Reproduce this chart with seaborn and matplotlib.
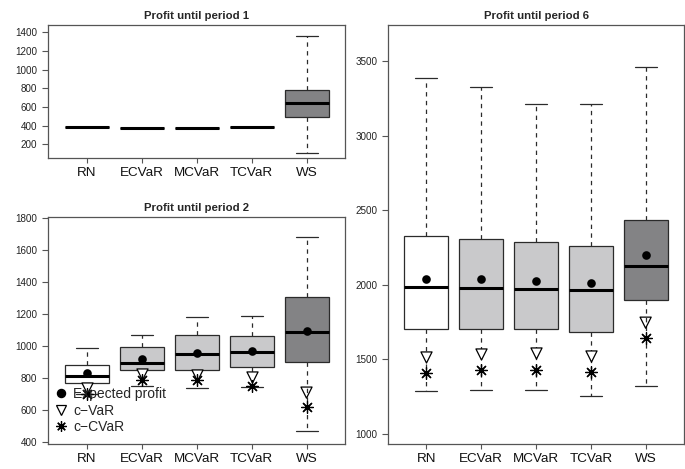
import numpy as np
import pandas as pd
import matplotlib
matplotlib.use("Agg")
import matplotlib.pyplot as plt
from matplotlib.lines import Line2D
import seaborn as sns

categories = ["RN", "ECVaR", "MCVaR", "TCVaR", "WS"]

# Period 1: five-number summaries (lower whisker, Q1, median, Q3, upper whisker)
p1_low = [382, 375, 375, 386, 103]
p1_q1 = [382, 375, 375, 386, 497]
p1_med = [382, 375, 375, 386, 643]
p1_q3 = [382, 375, 375, 386, 786]
p1_high = [382, 375, 375, 386, 1360]

# Period 2
p2_low = [700, 750, 742, 748, 469]
p2_q1 = [771, 850, 852, 871, 904]
p2_med = [815, 898, 952, 964, 1091]
p2_q3 = [883, 999, 1070, 1066, 1306]
p2_high = [991, 1070, 1182, 1192, 1680]
p2_mean = [836, 919, 960, 968, 1099]
p2_cvar = [738, 825, 822, 806, 711]
p2_ccvar = [705, 791, 792, 753, 624]

# Period 6
p6_low = [1290, 1292, 1295, 1257, 1319]
p6_q1 = [1701, 1701, 1701, 1685, 1895]
p6_med = [1987, 1976, 1971, 1964, 2127]
p6_q3 = [2326, 2304, 2290, 2263, 2433]
p6_high = [3388, 3326, 3210, 3210, 3460]
p6_mean = [2042, 2036, 2027, 2013, 2199]
p6_cvar = [1518, 1536, 1541, 1522, 1746]
p6_ccvar = [1406, 1429, 1429, 1413, 1641]

box_colors = {"RN": "#ffffff", "ECVaR": "#c9c9cb", "MCVaR": "#c9c9cb",
              "TCVaR": "#c9c9cb", "WS": "#838385"}

sns.set_style("ticks")
plt.rcParams["font.family"] = ["Liberation Sans", "DejaVu Sans"]

W, H = 685, 469
fig = plt.figure(figsize=(W / 100, H / 100), dpi=100)


def px_axes(left, top, right, bottom):
    return fig.add_axes([left / W, 1 - bottom / H, (right - left) / W, (bottom - top) / H])


ax1 = px_axes(48, 25, 345, 158)
ax2 = px_axes(48, 217, 345, 444)
ax3 = px_axes(388, 25, 684, 444)

edge = "#2b2b2b"
frame = "#555555"


def summary_frame(low, q1, med, q3, high):
    rows = []
    for i, c in enumerate(categories):
        for v in (low[i], q1[i], med[i], q3[i], high[i]):
            rows.append({"method": c, "profit": v})
    return pd.DataFrame(rows)


def draw_boxes(ax, low, q1, med, q3, high):
    df = summary_frame(low, q1, med, q3, high)
    sns.boxplot(data=df, x="method", y="profit", hue="method", order=categories,
                hue_order=categories, palette=box_colors, legend=False,
                whis=(0, 100), width=0.8, showfliers=False, linewidth=0.9,
                linecolor=edge, ax=ax,
                medianprops={"color": "black", "linewidth": 2.2},
                whiskerprops={"linestyle": (0, (3.5, 3.5)), "color": edge, "linewidth": 0.9},
                capprops={"color": edge, "linewidth": 0.9})


def draw_points(ax, mean, cvar, ccvar):
    sns.stripplot(x=categories, y=mean, order=categories, jitter=False, color="black",
                  marker="o", size=6.2, linewidth=0, ax=ax, zorder=5)
    sns.stripplot(x=categories, y=cvar, order=categories, jitter=False, color="white",
                  marker="v", size=8.0, linewidth=0.9, edgecolor="black", ax=ax, zorder=5)
    ax.collections[-1].set_facecolor("none")
    sns.stripplot(x=categories, y=ccvar, order=categories, jitter=False, color="black",
                  marker=(8, 2, 0), size=8.5, linewidth=0.9, edgecolor="black", ax=ax, zorder=5)


def style_axes(ax, title, ylim, yticks):
    ax.set_xlim(-0.7, 4.7)
    ax.set_ylim(*ylim)
    ax.set_yticks(yticks)
    ax.set_xlabel("")
    ax.set_ylabel("")
    ax.set_title(title, fontsize=8.2, fontweight="bold", pad=4)
    for s in ax.spines.values():
        s.set_visible(True)
        s.set_color(frame)
        s.set_linewidth(0.9)
    ax.tick_params(axis="y", labelsize=7.1, length=4.3, width=0.8, pad=3.5,
                   colors=frame, labelcolor="#222222")
    ax.tick_params(axis="x", labelsize=9.7, length=3.6, width=0.8, pad=3.2,
                   colors=frame, labelcolor="#111111")


draw_boxes(ax1, p1_low, p1_q1, p1_med, p1_q3, p1_high)
style_axes(ax1, "Profit until period 1", (53, 1478), range(200, 1401, 200))

draw_boxes(ax2, p2_low, p2_q1, p2_med, p2_q3, p2_high)
draw_points(ax2, p2_mean, p2_cvar, p2_ccvar)
style_axes(ax2, "Profit until period 2", (390, 1808), range(400, 1801, 200))

draw_boxes(ax3, p6_low, p6_q1, p6_med, p6_q3, p6_high)
draw_points(ax3, p6_mean, p6_cvar, p6_ccvar)
style_axes(ax3, "Profit until period 6", (933, 3741), range(1000, 3501, 500))

handles = [
    Line2D([], [], linestyle="none", marker="o", markersize=5.8, color="black"),
    Line2D([], [], linestyle="none", marker="v", markersize=7.0, markerfacecolor="none",
           markeredgecolor="black", markeredgewidth=0.9),
    Line2D([], [], linestyle="none", marker=(8, 2, 0), markersize=7.5, color="black",
           markeredgewidth=0.9),
]
leg = ax2.legend(handles, ["Expected profit", "c\u2212VaR", "c\u2212CVaR"],
                 loc="upper left", bbox_to_anchor=((54 - 48) / 297, (444 - 387) / 227),
                 frameon=False, fontsize=10, handlelength=1.0, handletextpad=0.37,
                 labelspacing=0.18, borderpad=0, borderaxespad=0)
leg.set_zorder(10)

fig.savefig("out.png", dpi=100)
